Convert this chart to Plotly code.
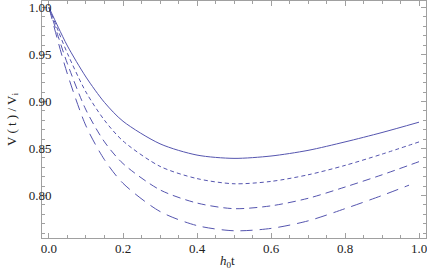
import plotly.graph_objects as go

# Data
t_full = [0.0, 0.025, 0.05, 0.1, 0.15, 0.2, 0.3, 0.4, 0.5, 0.6, 0.7, 0.8, 0.9, 1.0]
v_solid = [1.000, 0.979, 0.959, 0.926, 0.899, 0.879, 0.855, 0.843, 0.8395, 0.842, 0.848, 0.857, 0.867, 0.878]
v_short = [1.000, 0.975, 0.951, 0.910, 0.880, 0.858, 0.831, 0.818, 0.8125, 0.815, 0.822, 0.832, 0.844, 0.857]
v_medium = [1.000, 0.969, 0.940, 0.891, 0.857, 0.834, 0.806, 0.792, 0.786, 0.789, 0.797, 0.809, 0.822, 0.836]
t_long = [0.0, 0.025, 0.05, 0.1, 0.15, 0.2, 0.3, 0.4, 0.5, 0.6, 0.7, 0.8, 0.9, 0.973]
v_long = [1.000, 0.963, 0.929, 0.874, 0.838, 0.813, 0.783, 0.768, 0.7625, 0.765, 0.773, 0.786, 0.800, 0.811]

x_ticks = [0.0, 0.2, 0.4, 0.6, 0.8, 1.0]
x_tick_labels = ["0.0", "0.2", "0.4", "0.6", "0.8", "1.0"]
y_ticks = [0.80, 0.85, 0.90, 0.95, 1.00]
y_tick_labels = ["0.80", "0.85", "0.90", "0.95", "1.00"]

color = "rgb(85,85,175)"
fig = go.Figure()
series = [
    (t_full, v_solid, "solid"),
    (t_full, v_short, "4px,3px"),
    (t_full, v_medium, "8px,5px"),
    (t_long, v_long, "12px,7px"),
]
for xs, ys, dash in series:
    fig.add_trace(go.Scatter(x=xs, y=ys, mode="lines",
                             line=dict(color=color, width=1, dash=dash, shape="spline", smoothing=0.8),
                             showlegend=False, hoverinfo="skip"))

tick_font = dict(family="Liberation Serif", size=13, color="#222222")
axis_common = dict(
    showgrid=False, zeroline=False, showline=True, linecolor="#a0a0a0", linewidth=1,
    mirror="ticks", ticks="inside", tickcolor="#a0a0a0", ticklen=5, tickwidth=1,
    tickfont=tick_font, ticklabeloverflow="allow",
)
fig.update_layout(
    width=427, height=274,
    margin=dict(l=42, r=1, t=1, b=36),
    plot_bgcolor="white", paper_bgcolor="white",
    xaxis=dict(range=[-0.0189, 1.0189], tickvals=x_ticks, ticktext=x_tick_labels,
               ticklabelstandoff=-2,
               minor=dict(dtick=0.05, ticks="inside", ticklen=3, tickcolor="#a0a0a0", tick0=0),
               **axis_common),
    yaxis=dict(range=[0.7548, 1.0069], tickvals=y_ticks, ticktext=y_tick_labels,
               ticklabelstandoff=-13,
               minor=dict(dtick=0.01, ticks="inside", ticklen=3, tickcolor="#a0a0a0", tick0=0.75),
               title=dict(text="V ( t ) / V<sub>i</sub>", font=dict(family="Liberation Serif", size=13, color="#222222"), standoff=9),
               **axis_common),
    annotations=[dict(text="<i>h</i><sub>0</sub>t", xref="paper", yref="paper",
                      x=0.484, y=-0.10, xanchor="center", yanchor="middle", showarrow=False,
                      font=dict(family="Liberation Serif", size=13, color="#222222"))],
)
fig.write_html("out.html", config={"displayModeBar": False},
               post_script="document.body.style.margin='0';document.body.style.overflow='hidden';")
